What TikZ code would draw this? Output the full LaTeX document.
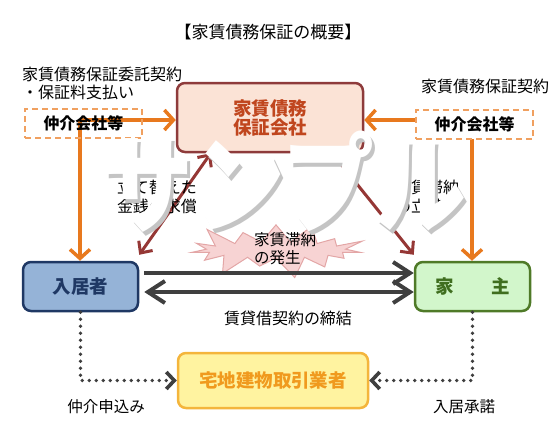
\documentclass[tikz,border=0pt]{standalone}
\usepackage{fontspec}
\setmainfont{Noto Sans CJK JP}
\newfontfamily\wmfont{Noto Sans CJK JP}
\usetikzlibrary{arrows.meta,shapes.symbols}

\definecolor{gscfill}{HTML}{FBE3D6}
\definecolor{gscline}{HTML}{8E3B3B}
\definecolor{gsctext}{HTML}{C0461E}
\definecolor{tenfill}{HTML}{95B3D7}
\definecolor{tenline}{HTML}{1F3864}
\definecolor{ownfill}{HTML}{D2F6CB}
\definecolor{ownline}{HTML}{4F7A28}
\definecolor{owntext}{HTML}{3F6E1F}
\definecolor{agtfill}{HTML}{FFF3A0}
\definecolor{agtline}{HTML}{F4B53C}
\definecolor{agttext}{HTML}{F09A1E}
\definecolor{orangeln}{HTML}{E8791E}
\definecolor{dashln}{HTML}{F0A060}
\definecolor{redln}{HTML}{953735}
\definecolor{darkln}{HTML}{3F3F3F}
\definecolor{starfill}{HTML}{F7D3D3}
\definecolor{starline}{HTML}{E3A6A6}
\definecolor{wmgray}{HTML}{C4C4C4}

\tikzset{
	lbl/.style={inner sep=0pt, font=\fontsize{16}{19}\selectfont},
	mainbox/.style={rectangle, rounded corners=8pt, line width=2.5pt, inner sep=0pt, font=\fontsize{18.5}{19}\selectfont\bfseries},
	dashbox/.style={rectangle, draw=dashln, line width=2pt, dash pattern=on 6pt off 4pt, minimum width=117pt, minimum height=29pt, inner sep=0pt, font=\fontsize{16}{19}\selectfont\bfseries},
	orangearrow/.style={draw=orangeln, line width=3.5pt, -{Straight Barb[length=9pt,width=20pt]}},
	redarrow/.style={draw=redln, line width=3pt},
	redtip/.tip={Straight Barb[length=9pt,width=17pt]},
	darktip/.tip={Straight Barb[length=17pt,width=22pt]},
	darkarrow/.style={draw=darkln, line width=4pt},
	dotarrow/.style={draw=darkln, line width=3.6pt, line cap=round, dash pattern=on 0pt off 7pt, -{Straight Barb[length=8pt,width=17pt]}},
	wmark/.style={inner sep=0pt, font=\wmfont\bfseries\fontsize{108}{110}\selectfont}
}

\begin{document}
\begin{tikzpicture}[x=1pt, y=-1pt]
	\useasboundingbox (0,0) rectangle (550,424);

	\node[lbl, font=\fontsize{17}{19}\selectfont] (title) at (268,32) {【家賃債務保証の概要】};
	\node[lbl, anchor=west] (cont1) at (22,74) {家賃債務保証委託契約};
	\node[lbl, anchor=west] (cont2) at (22,92) {・保証料支払い};
	\node[lbl, anchor=west] (cont3) at (421,86) {家賃債務保証契約};

	\node[mainbox, draw=gscline, fill=gscfill, text=gsctext, minimum width=186pt, minimum height=69pt, align=center] (gsc) at (270,117.5) {家賃債務\\保証会社};
	\node[mainbox, draw=tenline, fill=tenfill, text=tenline, minimum width=115pt, minimum height=49pt] (tenant) at (80.5,286.5) {入居者};
	\node[mainbox, draw=ownline, fill=ownfill, text=owntext, minimum width=115pt, minimum height=49pt] (owner) at (472.5,286.5) {家　　主};
	\node[mainbox, draw=agtline, fill=agtfill, text=agttext, minimum width=190pt, minimum height=55pt] (agent) at (273,380.5) {宅地建物取引業者};

	\node[starburst, starburst points=15, starburst point height=24pt, draw=starline, fill=starfill, line width=1pt, minimum width=188pt, minimum height=64pt, inner sep=0pt] (late) at (276,250) {};
	\node[lbl, font=\fontsize{15.5}{18}\selectfont, align=left] (latetxt) at (285,249) {家賃滞納\\の発生};

	\coordinate (b1) at (80,120);
	\coordinate (b2) at (472,120);
	\draw[orangearrow] (b1) -- (gsc.west |- b1);
	\draw[orangearrow] (b1) -- (b1 |- tenant.north);
	\draw[orangearrow] (b2) -- (gsc.east |- b2);
	\draw[orangearrow] (b2) -- (b2 |- owner.north);

	\draw[redarrow, redtip-redtip] ([xshift=35pt]gsc.south west) -- ([yshift=6pt]tenant.north east);
	\draw[redarrow, -redtip] ([xshift=-32pt]gsc.south east) -- ([yshift=6pt]owner.north west);

	\draw[darkarrow, -darktip] ([xshift=5pt,yshift=13.5pt]tenant.east) -- ([yshift=13.5pt]owner.west);
	\draw[darkarrow, darktip-darktip] ([xshift=5pt,yshift=-5.5pt]tenant.east) -- ([yshift=-5.5pt]owner.west);

	\draw[dotarrow] (tenant.south) |- (agent.west);
	\draw[dotarrow] (owner.south) |- (agent.east);

	\node[dashbox] (brk1) at (83.5,123.5) {仲介会社等};
	\node[dashbox, fill=white] (brk2) at (474.5,124) {仲介会社等};

	\node[lbl] (sign) at (288,318) {賃貸借契約の締結};
	\node[lbl, font=\fontsize{15.5}{18}\selectfont] (apply) at (106,407) {仲介申込み};
	\node[lbl, font=\fontsize{15.5}{18}\selectfont] (accept) at (464,407) {入居承諾};
	\node[lbl, align=center, font=\fontsize{16}{18.5}\selectfont] (reimb) at (157,197) {立て替えた\\金銭の求償};
	\node[lbl, align=left, anchor=west, font=\fontsize{16}{18.5}\selectfont] (advance) at (395,197) {家賃滞納\\の立替};

	\node[wmark, text=wmgray] (wmshadow) at (287,186) {\scalebox{0.85}[1]{サンプル}};
	\node[wmark, text=white] (wm) at (284,182) {\scalebox{0.85}[1]{サンプル}};
\end{tikzpicture}
\end{document}
